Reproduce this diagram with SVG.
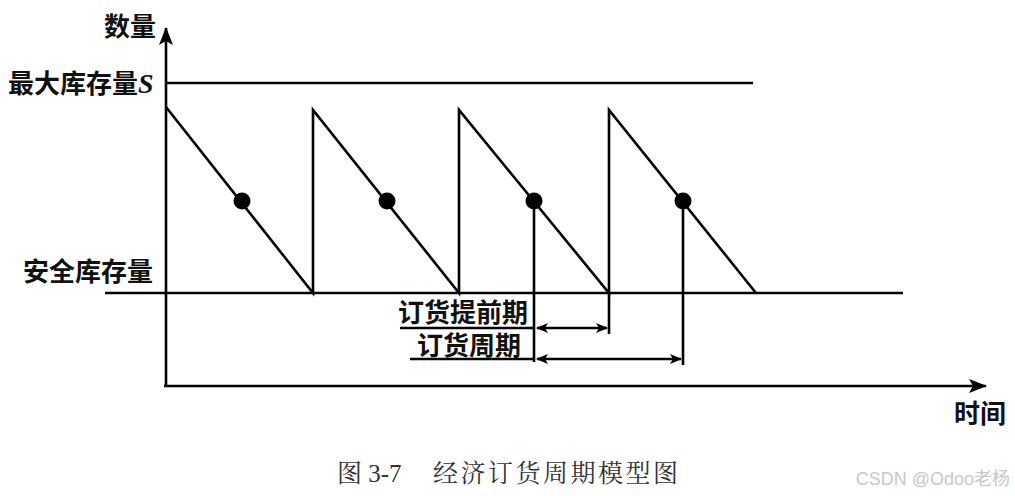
<svg xmlns="http://www.w3.org/2000/svg" width="1015" height="496" viewBox="0 0 1015 496">
<style>
.l{stroke:#000;stroke-width:2.6;fill:none}
.t{font-family:"Noto Sans CJK SC","Liberation Sans",sans-serif;font-weight:bold;font-size:26px;fill:#111}
.d{fill:#000}
.c{font-family:"Liberation Serif","Noto Serif CJK SC","Noto Sans CJK SC",serif;font-size:25px;fill:#333}
</style>
<defs>
<marker id="ah" viewBox="0 0 12 10" refX="11" refY="5" markerWidth="12" markerHeight="10" markerUnits="userSpaceOnUse" orient="auto-start-reverse">
<path d="M0,0 L12,5 L0,10 L3,5 Z" fill="#000"/>
</marker>
<marker id="axh" viewBox="0 0 18 14" refX="17" refY="7" markerWidth="18" markerHeight="14" markerUnits="userSpaceOnUse" orient="auto">
<path d="M0,0 L18,7 L0,14 L4,7 Z" fill="#000"/>
</marker>
</defs>
<rect width="1015" height="496" fill="#fff"/>
<g id="connectors">
<line class="l" x1="166" y1="387" x2="166" y2="28" marker-end="url(#axh)"/>
<line class="l" x1="164" y1="386" x2="986" y2="386" marker-end="url(#axh)"/>
<line class="l" x1="166" y1="83" x2="753" y2="83"/>
<line class="l" x1="105" y1="293" x2="903" y2="293"/>
<polyline class="l" points="166,107 313,293 313,110 459,293 459,110 609,293 609,110 756,293"/>
<line class="l" x1="534" y1="201" x2="534" y2="362"/>
<line class="l" x1="609" y1="293" x2="609" y2="334"/>
<line class="l" x1="683" y1="201" x2="683" y2="365"/>
<line class="l" x1="400" y1="328" x2="534" y2="328"/>
<line class="l" x1="410" y1="359" x2="534" y2="359"/>
<line class="l" x1="537" y1="328" x2="607" y2="328" marker-start="url(#ah)" marker-end="url(#ah)"/>
<line class="l" x1="537" y1="359" x2="681" y2="359" marker-start="url(#ah)" marker-end="url(#ah)"/>
</g>
<g id="dots">
<circle class="d" cx="242" cy="201" r="8.5"/>
<circle class="d" cx="387" cy="201" r="8.5"/>
<circle class="d" cx="534" cy="201" r="8.5"/>
<circle class="d" cx="683" cy="201" r="8.5"/>
</g>
<g id="labels">
<text class="t" x="156" y="36" text-anchor="end">数量</text>
<text class="t" x="8" y="93">最大库存量<tspan font-family="Liberation Serif,serif" font-style="italic" font-size="28">S</tspan></text>
<text class="t" x="153" y="281" text-anchor="end">安全库存量</text>
<text class="t" x="528" y="322" text-anchor="end">订货提前期</text>
<text class="t" x="521" y="355" text-anchor="end">订货周期</text>
<text class="t" x="954" y="423">时间</text>
</g>
<g id="caption">
<text class="c" x="337" y="482">图 3-7</text>
<text class="c" x="433" y="482" textLength="245" lengthAdjust="spacing">经济订货周期模型图</text>
<text x="1010" y="485" text-anchor="end" font-family="'Liberation Sans','Noto Sans CJK SC',sans-serif" font-size="18" fill="#c8c8c8">CSDN @Odoo老杨</text>
</g>
</svg>
